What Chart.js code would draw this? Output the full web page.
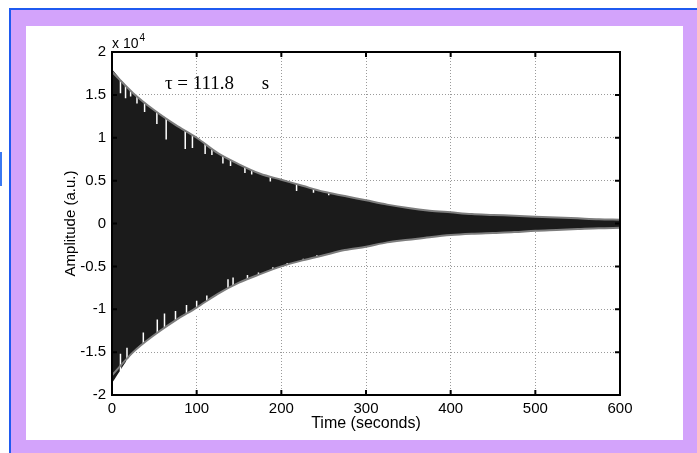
<!DOCTYPE html>
<html>
<head>
<meta charset="utf-8">
<script src="https://cdn.jsdelivr.net/npm/chart.js@4.4.0/dist/chart.umd.min.js"></script>
<style>
  html, body { margin: 0; padding: 0; background: #fff; }
  body { width: 697px; height: 453px; position: relative; overflow: hidden; }
  #frame { position: absolute; left: 9px; top: 8px; right: 0; bottom: 0; background: #d3a3fb;
           border-left: 2px solid #1f5af0; border-top: 2px solid #1f5af0; }
  #mark { position: absolute; left: 0; top: 152px; width: 2px; height: 34px; background: #3a78f2; }
  #panel { position: absolute; left: 26px; top: 26px; width: 657px; height: 414px; background: #fff; }
</style>
</head>
<body>
<div id="frame"></div>
<div id="mark"></div>
<div id="panel"><canvas id="decayChart"></canvas></div>
<script>
// time samples (s) and envelope (raw amplitude, a.u.)
const times = [0, 25, 50, 75, 100, 125, 150, 175, 200, 225, 250, 275, 300,
               325, 350, 375, 400, 425, 450, 475, 500, 525, 550, 575, 600];
const upperFit = [17700, 15200, 13200, 11500, 10000, 8200, 6900, 5800, 5100, 4400, 3700, 3200, 2700,
                  2200, 1800, 1500, 1300, 1100, 1000, 900, 800, 700, 600, 500, 450];
const lowerFit = [-17700, -15000, -13000, -11300, -9800, -8200, -6900, -5900, -5000, -4300, -3700, -3100, -2700,
                  -2200, -1900, -1600, -1350, -1200, -1100, -1000, -850, -750, -650, -550, -500];
// filled signal band (peaks of the oscillation)
const bandUpper = [18000, 15200, 13200, 11500, 10000, 8200, 6900, 5800, 5100, 4400, 3700, 3200, 2700,
                   2200, 1800, 1500, 1300, 1100, 1000, 900, 800, 700, 600, 500, 450];
const bandLower = [-18600, -15000, -13000, -11300, -9800, -8200, -6900, -5900, -5000, -4300, -3700, -3100, -2700,
                   -2200, -1900, -1600, -1350, -1200, -1100, -1000, -850, -750, -650, -550, -500];

// low peaks (white gaps) along the edges of the band, from outside the band inward
const notchT   = [10, 16, 22, 29.5, 38.5, 53, 64, 86.5, 95, 110, 118, 131, 140, 157, 165, 187, 218, 238, 256,
                  10, 17.7, 37, 53.5, 62, 75, 88, 100, 112, 137, 143, 160, 173, 190, 207, 226, 242, 262, 275];
const notchTop = [17400, 16800, 16300, 15600, 14600, 13500, 12700, 11300, 10900, 9800, 9400, 8600, 8100, 7300, 6900, 6300, 5300, 4800, 4400,
                  -17200, -16500, -14700, -13200, -12500, -11800, -11100, -10600, -10000, -8400, -8100, -7400, -7000, -6300, -5800, -5300, -4900, -4500, -4200];
const notchBot = [15200, 14600, 14800, 14000, 13000, 11600, 9800, 8700, 8800, 8100, 8000, 7000, 6700, 5900, 5700, 4900, 3800, 3600, 3300,
                  -15200, -14500, -12700, -11200, -10500, -10200, -9500, -9000, -8400, -6500, -6300, -6000, -5700, -5100, -4600, -4100, -3700, -3400, -3200];

const xTicks = [0, 100, 200, 300, 400, 500, 600];
const yTicks = [-20000, -15000, -10000, -5000, 0, 5000, 10000, 15000, 20000];
const tauLabel = 'τ = 111.8';
const tauUnit = 's';

function pts(xs, ys) {
    return xs.map((x, i) => ({x: x, y: ys[i]}));
}
const notchPts = [];
notchT.forEach((t, i) => {
    notchPts.push({x: t, y: notchTop[i]}, {x: t, y: notchBot[i]}, {x: t, y: null});
});

const font = "'Liberation Sans', Arial, sans-serif";

// MATLAB style box with inward ticks + text annotations
const boxPlugin = {
    id: 'boxPlugin',
    afterDraw(chart) {
        const {ctx, chartArea: a, scales} = chart;
        ctx.save();
        ctx.strokeStyle = '#000';
        ctx.lineWidth = 2;
        ctx.strokeRect(a.left, a.top, a.right - a.left, a.bottom - a.top);
        const len = 5;
        ctx.beginPath();
        xTicks.forEach(v => {
            const px = scales.x.getPixelForValue(v);
            ctx.moveTo(px, a.bottom); ctx.lineTo(px, a.bottom - len);
            ctx.moveTo(px, a.top); ctx.lineTo(px, a.top + len);
        });
        yTicks.forEach(v => {
            const py = scales.y.getPixelForValue(v);
            ctx.moveTo(a.left, py); ctx.lineTo(a.left + len, py);
            ctx.moveTo(a.right, py); ctx.lineTo(a.right - len, py);
        });
        ctx.stroke();

        // exponent label
        ctx.fillStyle = '#000';
        ctx.textBaseline = 'alphabetic';
        ctx.font = '14px ' + font;
        ctx.fillText('x 10', a.left, a.top - 4);
        const w = ctx.measureText('x 10').width;
        ctx.font = '10px ' + font;
        ctx.fillText('4', a.left + w + 1, a.top - 11);

        // decay time text
        ctx.font = "19px 'Liberation Serif', 'Times New Roman', serif";
        ctx.textBaseline = 'middle';
        ctx.fillText(tauLabel, scales.x.getPixelForValue(62.5), scales.y.getPixelForValue(16300));
        ctx.fillText(tauUnit, scales.x.getPixelForValue(177), scales.y.getPixelForValue(16300));
        ctx.restore();
    }
};

const ctx = document.getElementById('decayChart').getContext('2d');
new Chart(ctx, {
    type: 'line',
    data: {
        datasets: [
            {
                data: pts(times, upperFit), borderColor: '#7d7d7d', borderWidth: 2,
                pointRadius: 0, cubicInterpolationMode: 'monotone', fill: false, order: 1
            },
            {
                data: pts(times, lowerFit), borderColor: '#7d7d7d', borderWidth: 2,
                pointRadius: 0, cubicInterpolationMode: 'monotone', fill: false, order: 1
            },
            {
                data: notchPts, borderColor: '#ffffff', borderWidth: 1.5,
                pointRadius: 0, tension: 0, fill: false, spanGaps: false, order: 2
            },
            {
                data: pts(times, bandUpper), borderWidth: 0, borderColor: 'rgba(0,0,0,0)',
                backgroundColor: '#1b1b1b', pointRadius: 0, cubicInterpolationMode: 'monotone',
                fill: {target: 4}, order: 3
            },
            {
                data: pts(times, bandLower), borderWidth: 0, borderColor: 'rgba(0,0,0,0)',
                pointRadius: 0, cubicInterpolationMode: 'monotone', fill: false, order: 4
            }
        ]
    },
    options: {
        responsive: true,
        maintainAspectRatio: false,
        animation: false,
        layout: { padding: { left: 32, top: 26, right: 63, bottom: 3 } },
        plugins: { legend: { display: false }, tooltip: { enabled: false } },
        scales: {
            x: {
                type: 'linear', min: 0, max: 600,
                afterFit: s => { s.height = 42; },
                afterBuildTicks: s => { s.ticks = xTicks.map(v => ({value: v})); },
                grid: { color: '#9a9a9a', lineWidth: 1, drawTicks: false },
                border: { display: false, dash: [1, 2] },
                ticks: { color: '#000', padding: 5, autoSkip: false, maxRotation: 0,
                         font: { family: font, size: 15 } },
                title: { display: true, text: 'Time (seconds)', color: '#000',
                         font: { family: font, size: 16 }, padding: { top: 4, bottom: 4 } }
            },
            y: {
                type: 'linear', min: -20000, max: 20000,
                afterFit: s => { s.width = 54; },
                afterBuildTicks: s => { s.ticks = yTicks.map(v => ({value: v})); },
                grid: { color: '#9a9a9a', lineWidth: 1, drawTicks: false },
                border: { display: false, dash: [1, 2] },
                ticks: { color: '#000', padding: 6, autoSkip: false,
                         font: { family: font, size: 15 },
                         callback: v => String(v / 10000) },
                title: { display: true, text: 'Amplitude (a.u.)', color: '#000',
                         font: { family: font, size: 15 }, padding: { top: 4, bottom: 4 } }
            }
        }
    },
    plugins: [boxPlugin]
});
</script>
</body>
</html>
